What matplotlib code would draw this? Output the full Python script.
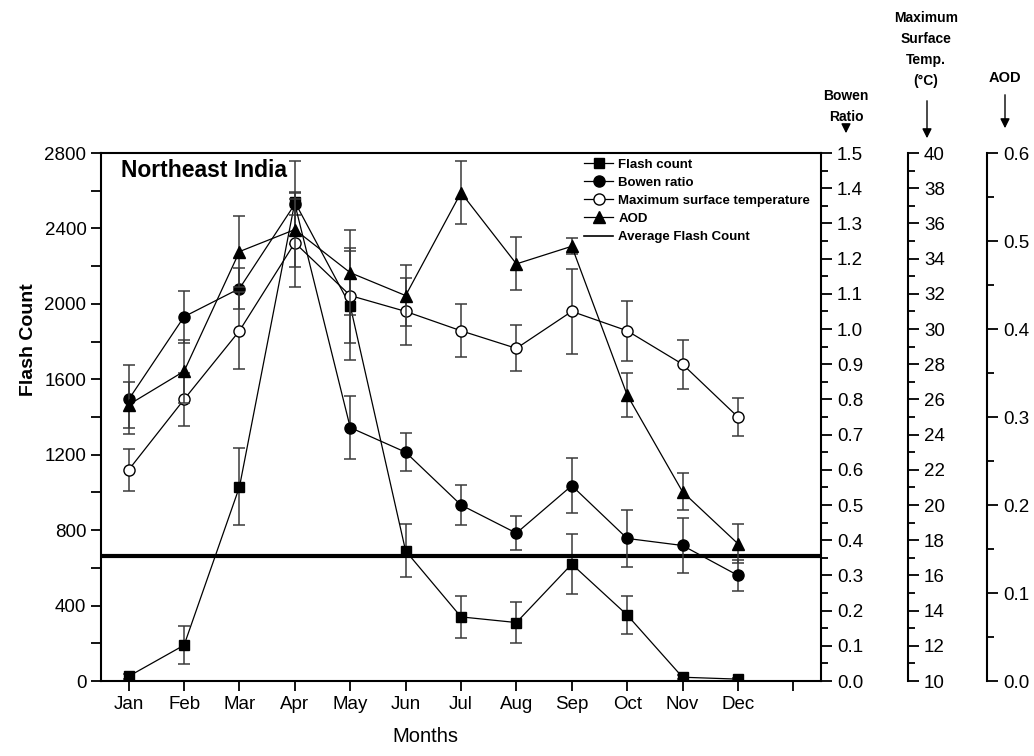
import matplotlib.pyplot as plt
from matplotlib.lines import Line2D
from matplotlib.ticker import MultipleLocator, FormatStrFormatter

plt.rcParams['font.family'] = ['Liberation Sans', 'DejaVu Sans']

# monthly values
months = ['Jan', 'Feb', 'Mar', 'Apr', 'May', 'Jun', 'Jul', 'Aug', 'Sep', 'Oct', 'Nov', 'Dec']
x = list(range(1, 13))

flash = [25, 190, 1030, 2540, 1990, 690, 340, 310, 620, 350, 20, 10]
flash_err = [12, 100, 205, 220, 290, 140, 110, 110, 160, 100, 10, 5]

bowen = [0.80, 1.035, 1.115, 1.355, 0.72, 0.65, 0.50, 0.42, 0.555, 0.405, 0.385, 0.30]
bowen_err = [0.097, 0.074, 0.057, 0.03, 0.09, 0.054, 0.058, 0.048, 0.078, 0.08, 0.077, 0.044]

temp = [22.0, 26.0, 29.9, 34.9, 31.9, 31.0, 29.9, 28.9, 31.0, 29.9, 28.0, 25.0]
temp_err = [1.2, 1.5, 2.2, 2.5, 2.7, 1.9, 1.5, 1.3, 2.4, 1.7, 1.4, 1.1]

aod = [0.314, 0.352, 0.488, 0.513, 0.464, 0.438, 0.555, 0.474, 0.494, 0.325, 0.215, 0.156]
aod_err = [0.026, 0.036, 0.04, 0.043, 0.048, 0.035, 0.036, 0.03, 0.009, 0.025, 0.021, 0.022]

avg_flash = 665

fig = plt.figure(figsize=(10.34, 7.56), dpi=100)
ax = fig.add_axes([0.0977, 0.0992, 0.6963, 0.6984])

ebar = dict(color='black', lw=0.9, ecolor='#3a3a3a', elinewidth=1.1, capsize=4, capthick=1.1)

# flash count on the host axis
ax.errorbar(x, flash, yerr=flash_err, marker='s', ms=7, **ebar)
ax.axhline(avg_flash, color='black', lw=3)
ax.set_xlim(0.5, 13.5)
ax.set_ylim(0, 2800)
ax.set_xticks(range(1, 14))
ax.set_xticklabels(months + [''])
ax.yaxis.set_major_locator(MultipleLocator(400))
ax.yaxis.set_minor_locator(MultipleLocator(200))
ax.tick_params(axis='both', which='both', direction='out', length=7, width=1.3, labelsize=13.5)
ax.spines['right'].set_visible(False)
for s in ['left', 'bottom', 'top']:
    ax.spines[s].set_linewidth(1.5)
ax.set_ylabel('Flash Count', fontsize=14, fontweight='bold')
ax.yaxis.set_label_coords(-0.089, 0.646)
ax.set_xlabel('Months', fontsize=14.5)
ax.xaxis.set_label_coords(0.451, -0.087)
ax.text(0.028, 0.966, 'Northeast India', transform=ax.transAxes, fontsize=16.5,
        fontweight='bold', va='center')

# extra y axes on the right
ax2 = ax.twinx()
ax3 = ax.twinx()
ax4 = ax.twinx()
ax3.spines['right'].set_position(('axes', 1.121))
ax4.spines['right'].set_position(('axes', 1.2306))
for a in [ax2, ax3, ax4]:
    for s in ['left', 'top', 'bottom']:
        a.spines[s].set_visible(False)
    a.spines['right'].set_linewidth(1.5)
    a.tick_params(axis='y', which='major', direction='out', length=8, width=1.3, labelsize=13.5)
    a.tick_params(axis='y', which='minor', direction='out', length=5, width=1.3)

ax2.errorbar(x, bowen, yerr=bowen_err, marker='o', ms=8, **ebar)
ax2.set_ylim(0, 1.5)
ax2.yaxis.set_major_locator(MultipleLocator(0.1))
ax2.yaxis.set_minor_locator(MultipleLocator(0.05))
ax2.yaxis.set_major_formatter(FormatStrFormatter('%.1f'))

ax3.errorbar(x, temp, yerr=temp_err, marker='o', ms=8, mfc='white', mec='black', **ebar)
ax3.set_ylim(10, 40)
ax3.yaxis.set_major_locator(MultipleLocator(2))
ax3.yaxis.set_minor_locator(MultipleLocator(1))

ax4.errorbar(x, aod, yerr=aod_err, marker='^', ms=9, **ebar)
ax4.set_ylim(0, 0.6)
ax4.yaxis.set_major_locator(MultipleLocator(0.1))
ax4.yaxis.set_minor_locator(MultipleLocator(0.05))
ax4.yaxis.set_major_formatter(FormatStrFormatter('%.1f'))

# legend
handles = [
    Line2D([], [], color='black', lw=0.9, marker='s', ms=7),
    Line2D([], [], color='black', lw=0.9, marker='o', ms=8),
    Line2D([], [], color='black', lw=0.9, marker='o', ms=8, mfc='white'),
    Line2D([], [], color='black', lw=0.9, marker='^', ms=9),
    Line2D([], [], color='black', lw=1.2),
]
labels = ['Flash count', 'Bowen ratio', 'Maximum surface temperature', 'AOD', 'Average Flash Count']
ax4.legend(handles, labels, loc='upper left', bbox_to_anchor=(0.671, 0.99), frameon=False,
           prop={'weight': 'bold', 'size': 9.5}, handlelength=2.2, handletextpad=0.4,
           labelspacing=0.45, borderaxespad=0, borderpad=0)

# axis titles with arrows above the right axes
fig.text(846 / 1034, 1 - 106.5 / 756, 'Bowen\nRatio', ha='center', va='center',
         fontsize=10, fontweight='bold', linespacing=1.6)
fig.text(926 / 1034, 1 - 49.5 / 756, 'Maximum\nSurface\nTemp.\n(°C)', ha='center', va='center',
         fontsize=10, fontweight='bold', linespacing=1.65)
fig.text(1005 / 1034, 1 - 78 / 756, 'AOD', ha='center', va='center',
         fontsize=10.5, fontweight='bold')
arrow = dict(arrowstyle='-|>', color='black', lw=1, mutation_scale=14)
for xa, y0, y1 in [(846, 123, 136), (927, 98, 141), (1005, 92, 131)]:
    fig.add_artist(plt.Annotation('', xy=(xa / 1034, 1 - y1 / 756), xytext=(xa / 1034, 1 - y0 / 756),
                                  xycoords='figure fraction', textcoords='figure fraction',
                                  arrowprops=arrow))

fig.savefig('out.png', dpi=100)
